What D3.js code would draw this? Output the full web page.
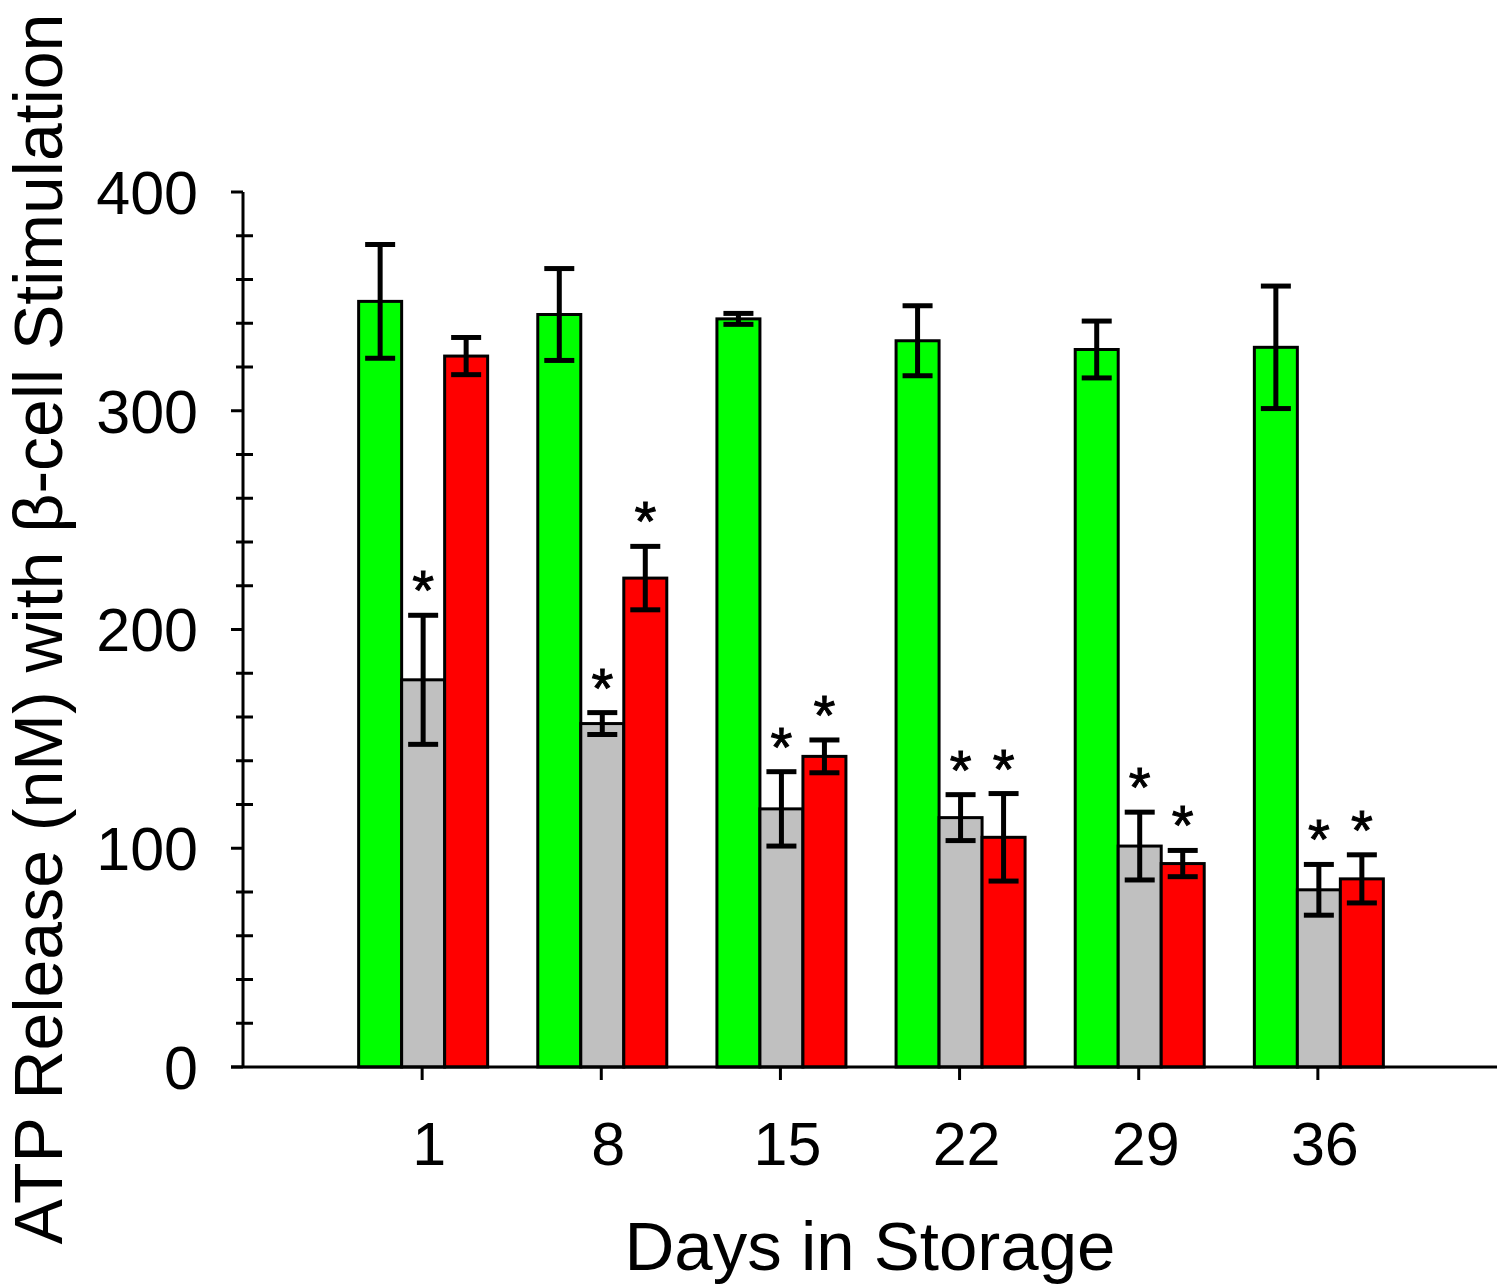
<!DOCTYPE html>
<html>
<head>
<meta charset="utf-8">
<script src="https://cdn.jsdelivr.net/npm/d3@7"></script>
<style>
  body { margin: 0; background: #fff; }
  text { font-family: "Liberation Sans", Arial, sans-serif; fill: #000; }
</style>
</head>
<body>
<div id="chart"></div>
<script>
// data
const days = [1, 8, 15, 22, 29, 36];
const greenMean = [350, 344, 342, 332, 328, 329];
const greenErr  = [26, 21, 2.5, 16, 13, 28];
const grayMean  = [177, 157, 118, 114, 101, 81];
const grayErr   = [29.5, 5, 17, 10.5, 15.5, 11.6];
const redMean   = [325, 223.5, 142, 105, 93, 86];
const redErr    = [8.5, 14.5, 7.5, 20, 6, 11];
const graySig = [true, true, true, true, true, true];
const redSig  = [false, true, true, true, true, true];
const yTicks = [0, 100, 200, 300, 400];

const W = 1500, H = 1288;
const svg = d3.select("#chart").append("svg")
  .attr("width", W).attr("height", H);

const x = d3.scaleLinear().domain([-6, 43]).range([243, 1497]);
const y = d3.scaleLinear().domain([0, 400]).range([1067, 192]);
const barW = 43;

const series = [
  { mean: greenMean, err: greenErr, fill: "#00ff00", off: -1.5, sig: null },
  { mean: grayMean, err: grayErr, fill: "#c0c0c0", off: -0.5, sig: graySig },
  { mean: redMean, err: redErr, fill: "#ff0000", off: 0.5, sig: redSig }
];

series.forEach(function(s) {
  const rows = days.map(function(d, i) {
    return { day: d, m: s.mean[i], e: s.err[i], sig: s.sig ? s.sig[i] : false };
  });
  const cx = function(d) { return x(d.day) + 1 + (s.off + 0.5) * barW; };

  svg.append("g").selectAll("rect")
    .data(rows)
    .enter()
    .append("rect")
    .attr("x", function(d) { return cx(d) - barW / 2; })
    .attr("y", function(d) { return y(d.m); })
    .attr("width", barW)
    .attr("height", function(d) { return y(0) - y(d.m); })
    .attr("fill", s.fill)
    .attr("stroke", "#000")
    .attr("stroke-width", 3);

  const eb = svg.append("g").attr("stroke", "#000").attr("stroke-width", 5);
  rows.forEach(function(d) {
    const c = cx(d);
    eb.append("line").attr("x1", c).attr("x2", c)
      .attr("y1", y(d.m + d.e)).attr("y2", y(d.m - d.e));
    [d.m + d.e, d.m - d.e].forEach(function(v) {
      eb.append("line").attr("x1", c - 15).attr("x2", c + 15)
        .attr("y1", y(v)).attr("y2", y(v));
    });
    if (d.sig) {
      svg.append("text").attr("x", c).attr("y", y(d.m + d.e) - 6)
        .attr("text-anchor", "middle")
        .attr("stroke", "#000").attr("stroke-width", 1)
        .style("font-size", "56px")
        .text("*");
    }
  });
});

// y axis
const ax = svg.append("g").attr("stroke", "#000").attr("stroke-width", 3);
ax.append("line").attr("x1", 243).attr("x2", 243).attr("y1", y(400)).attr("y2", y(0));
d3.range(0, 401, 20).forEach(function(v) {
  if (v % 100 === 0) {
    ax.append("line").attr("x1", 231).attr("x2", 243).attr("y1", y(v)).attr("y2", y(v));
  } else {
    ax.append("line").attr("x1", 236).attr("x2", 253).attr("y1", y(v)).attr("y2", y(v));
  }
});
svg.append("g").selectAll("text")
  .data(yTicks)
  .enter()
  .append("text")
  .attr("x", 198)
  .attr("y", function(d) { return y(d); })
  .attr("dy", "0.36em")
  .attr("text-anchor", "end")
  .style("font-size", "61px")
  .text(function(d) { return d; });

// x axis
ax.append("line").attr("x1", 231).attr("x2", 1497).attr("y1", y(0)).attr("y2", y(0));
days.forEach(function(d) {
  ax.append("line").attr("x1", x(d)).attr("x2", x(d)).attr("y1", y(0)).attr("y2", y(0) + 13);
});
svg.append("g").selectAll("text")
  .data(days)
  .enter()
  .append("text")
  .attr("x", function(d) { return x(d) + 7; })
  .attr("y", 1165)
  .attr("text-anchor", "middle")
  .style("font-size", "61px")
  .text(function(d) { return d; });

svg.append("text")
  .attr("x", 870).attr("y", 1270)
  .attr("text-anchor", "middle")
  .style("font-size", "69px")
  .text("Days in Storage");

svg.append("text")
  .attr("transform", "translate(62,629) rotate(-90)")
  .attr("text-anchor", "middle")
  .style("font-size", "68px")
  .text("ATP Release (nM) with \u03b2-cell Stimulation");
</script>
</body>
</html>
